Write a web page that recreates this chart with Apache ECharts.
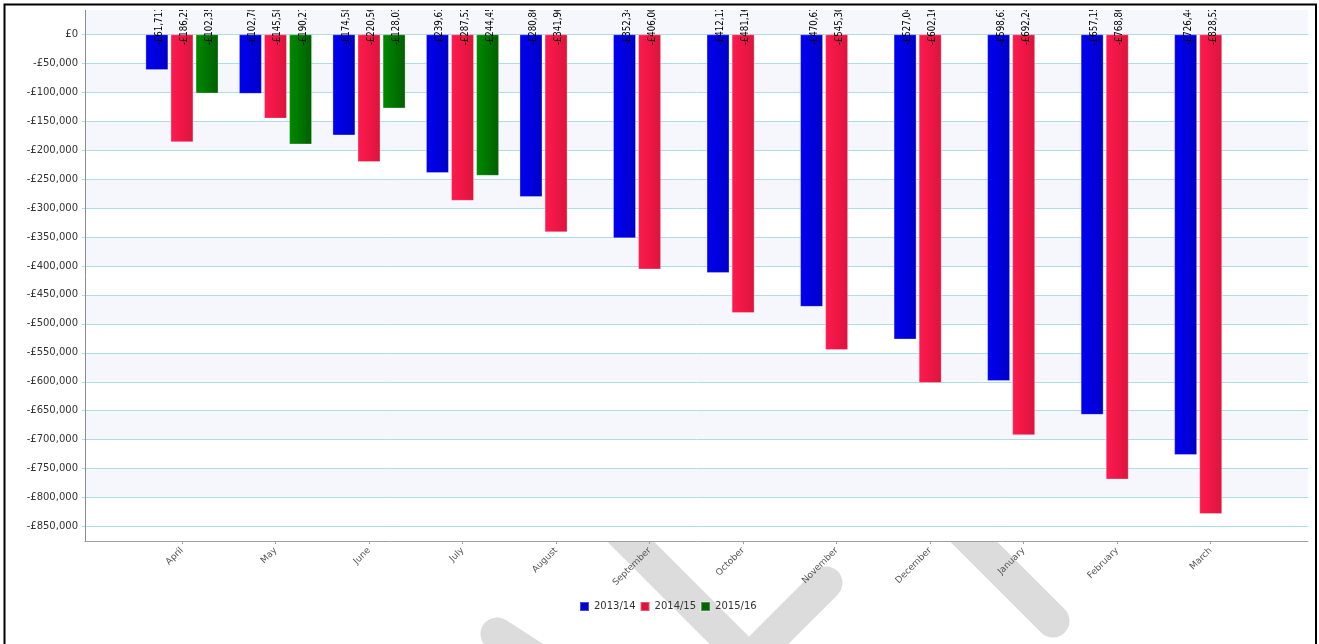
<!DOCTYPE html>
<html>
<head>
<meta charset="utf-8">
<title>Cumulative position by month</title>
<script src="https://cdn.jsdelivr.net/npm/echarts@6/dist/echarts.min.js"></script>
<style>
  html, body { margin: 0; padding: 0; background: #fff; }
  #chart { width: 1319px; height: 644px; }
</style>
</head>
<body>
<div id="chart"></div>
<script>
// Months of the financial year
const months = ['April', 'May', 'June', 'July', 'August', 'September',
  'October', 'November', 'December', 'January', 'February', 'March'];

// Series names
const seriesNames = ['2013/14', '2014/15', '2015/16'];

// Cumulative values in pounds
const values201314 = [-61711, -102784, -174583, -239612, -280864, -352341,
  -412123, -470615, -527046, -598631, -657152, -726447];
const values201415 = [-186254, -145583, -220561, -287525, -341963, -406004,
  -481162, -545301, -602165, -692243, -768861, -828527];
const values201516 = [-102352, -190271, -128034, -244451, null, null,
  null, null, null, null, null, null];

// Value axis range and tick marks
const yMin = -875000;
const yMax = 42000;
const yTicks = [0, -50000, -100000, -150000, -200000, -250000, -300000,
  -350000, -400000, -450000, -500000, -550000, -600000, -650000, -700000,
  -750000, -800000, -850000];

// Alternating light bands: above zero, then every other tick interval
const bands = [[yMax, 0]];
for (let i = 1; i + 1 < yTicks.length - 1; i += 2) bands.push([yTicks[i], yTicks[i + 1]]);

function money(v) {
  if (v === 0) return '£0';
  const s = Math.abs(Math.round(v)).toString().replace(/\B(?=(\d{3})+(?!\d))/g, ',');
  return (v < 0 ? '-£' : '£') + s;
}

function grad(c1, c2) {
  return new echarts.graphic.LinearGradient(0, 0, 1, 0, [
    { offset: 0, color: c1 }, { offset: 1, color: c2 }
  ]);
}

const legendColors = ['#0000cd', '#dc143c', '#006400'];
const barFills = [grad('#0000f2', '#0000c8'), grad('#ff1a4f', '#dc143c'), grad('#008a00', '#005f00')];
const seriesData = [values201314, values201415, values201516];

const valueLabel = {
  show: true,
  position: [14, 11],
  rotate: 90,
  align: 'left',
  verticalAlign: 'middle',
  fontSize: 9.6,
  fontFamily: '"DejaVu Sans Condensed", "Liberation Sans Narrow", "DejaVu Sans", sans-serif',
  color: '#000',
  formatter: p => money(p.value)
};

const barSeries = seriesNames.map((name, i) => ({
  name,
  type: 'bar',
  xAxisIndex: 1,
  yAxisIndex: 1,
  data: seriesData[i],
  barWidth: 23,
  barGap: '9%',
  z: 3,
  itemStyle: { color: barFills[i], borderColor: 'rgba(255,255,255,0.3)', borderWidth: 1 },
  label: valueLabel,
  emphasis: { disabled: true }
}));

const gridLineColor = '#b0dde4';
const uiFont = '"DejaVu Sans", Verdana, sans-serif';

// Grey stripes printed behind the chart
const stripe = (points) => ({
  type: 'polyline',
  silent: true,
  z: -10,
  shape: { points },
  style: { stroke: '#dcdcdc', lineWidth: 33, lineCap: 'round', lineJoin: 'round', fill: null }
});

const option = {
  animation: false,
  backgroundColor: '#fff',
  grid: [
    { left: 85, right: 11, top: 10, bottom: 103, show: true, backgroundColor: '#fff', borderWidth: 0 },
    { left: 135.2, right: 61.5, top: 10, bottom: 103 }
  ],
  xAxis: [
    {
      gridIndex: 0, type: 'value', min: 0, max: 1,
      axisLine: { show: true, onZero: false, lineStyle: { color: '#a0a0a0', width: 1 } },
      axisTick: { show: false }, axisLabel: { show: false }, splitLine: { show: false }
    },
    {
      gridIndex: 1, type: 'category', data: months,
      axisLine: { show: false, onZero: false },
      axisTick: { show: true, alignWithLabel: true, length: 3, lineStyle: { color: '#a0a0a0' } },
      axisLabel: { rotate: 45, interval: 0, margin: 8, color: '#555', fontSize: 9, fontFamily: uiFont },
      splitLine: { show: false }
    }
  ],
  yAxis: [
    {
      gridIndex: 0, type: 'value', min: yMin, max: yMax, z: 2,
      axisLine: { show: true, onZero: false, lineStyle: { color: '#8c8c8c', width: 1 } },
      axisTick: { show: true, length: 3, customValues: yTicks, lineStyle: { color: gridLineColor } },
      axisLabel: { customValues: yTicks, formatter: money, margin: 7, color: '#333', fontSize: 10, fontFamily: uiFont },
      splitLine: { show: true, lineStyle: { color: gridLineColor, width: 1 } }
    },
    { gridIndex: 1, type: 'value', min: yMin, max: yMax, show: false }
  ],
  legend: {
    data: seriesNames.map((n, i) => ({ name: n, itemStyle: { color: legendColors[i] } })),
    top: 601,
    left: 579,
    padding: 0,
    icon: 'rect',
    itemWidth: 9,
    itemHeight: 9,
    itemGap: 4,
    textStyle: { fontSize: 10, color: '#333', fontFamily: uiFont }
  },
  series: [
    {
      type: 'line', xAxisIndex: 0, yAxisIndex: 0, data: [], silent: true, z: 1,
      markArea: {
        silent: true,
        itemStyle: { color: '#f5f7fc' },
        data: bands.map(b => [{ yAxis: b[0] }, { yAxis: b[1] }])
      }
    },
    ...barSeries
  ],
  graphic: [
    stripe([[450, 361], [749, 660], [826, 583]]),
    stripe([[573, 141], [1053, 621]]),
    stripe([[497, 634], [600, 700]]),
    // keeps the value labels inside the plot area
    { type: 'rect', silent: true, z: 100, shape: { x: 84, y: 0, width: 1231, height: 10 }, style: { fill: '#fff' } },
    // outer frame
    { type: 'rect', silent: true, z: 101, shape: { x: 4.5, y: 4.5, width: 1311.5, height: 700 }, style: { fill: null, stroke: '#000', lineWidth: 2 } }
  ]
};

const chart = echarts.init(document.getElementById('chart'), null, { renderer: 'canvas' });
chart.setOption(option);
</script>
</body>
</html>
